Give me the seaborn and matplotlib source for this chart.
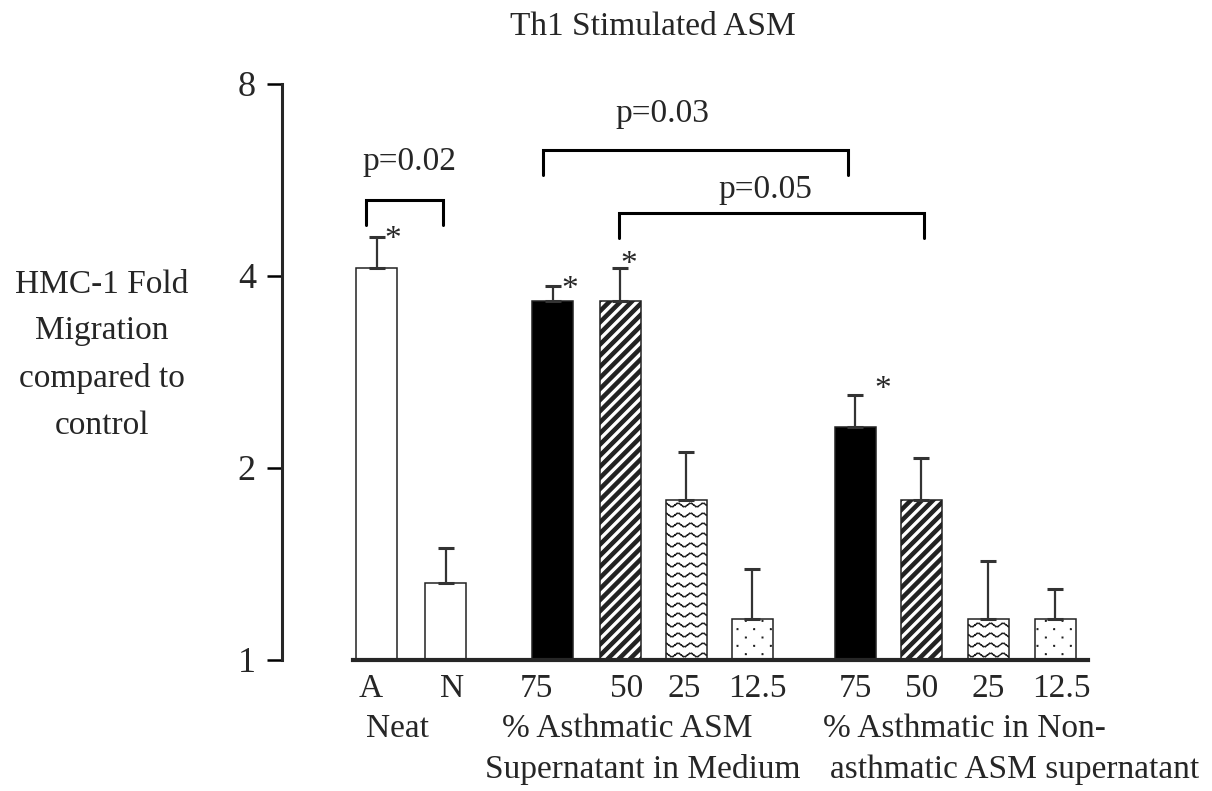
import warnings
import numpy as np
import pandas as pd
import seaborn as sns
import matplotlib
matplotlib.use("Agg")
import matplotlib.pyplot as plt
import matplotlib.hatch as mhatch
from matplotlib.path import Path

warnings.filterwarnings("ignore")

# Data (fold migration)
bar_labels = ["A", "N", "75", "50", "25", "12.5", "75", "50", "25", "12.5"]
fold = [4.12, 1.32, 3.65, 3.65, 1.78, 1.16, 2.32, 1.78, 1.16, 1.16]
sem = [0.49, 0.18, 0.21, 0.47, 0.34, 0.23, 0.28, 0.29, 0.27, 0.13]
starred = [True, False, True, True, False, False, True, False, False, False]
pvalues = ["p=0.02", "p=0.03", "p=0.05"]
yticks = [1, 2, 4, 8]

# layout (bar slots along x, not data)
pos = [0, 1.03, 2.63, 3.64, 4.63, 5.62, 7.16, 8.15, 9.15, 10.15]
faces = ["white", "white", "black", "white", "white", "white",
         "black", "white", "white", "white"]
hatches = [None, None, None, "#", "~", ":", None, "#", "~", ":"]


# custom hatch patterns: thick stripes, waves, sparse dots
class StripeHatch(mhatch.HatchPatternBase):
    n = 9

    def __init__(self, hatch, density):
        self.num_vertices = 5 * (2 * self.n + 3) if "#" in hatch else 0

    def set_vertices_and_codes(self, vertices, codes):
        hw = 0.2 / self.n
        i = 0
        for k in range(-self.n - 1, self.n + 2):
            c = k / self.n
            vertices[i:i + 5] = [(c - hw - 0.1, -0.1), (c + hw - 0.1, -0.1),
                                 (c + hw + 1.1, 1.1), (c - hw + 1.1, 1.1),
                                 (c - hw - 0.1, -0.1)]
            codes[i:i + 5] = [Path.MOVETO, Path.LINETO, Path.LINETO,
                              Path.LINETO, Path.CLOSEPOLY]
            i += 5


class WaveHatch(mhatch.HatchPatternBase):
    rows, waves, seg = 10, 8, 6

    def __init__(self, hatch, density):
        self.num_vertices = self.rows * self.waves * self.seg * 2 if "~" in hatch else 0

    def set_vertices_and_codes(self, vertices, codes):
        t = np.linspace(0, 1, self.waves * self.seg + 1)
        m = len(t) - 1
        for r in range(self.rows):
            y = (r + 0.5) / self.rows + 0.018 * np.sin(2 * np.pi * self.waves * t)
            sl = slice(r * 2 * m, (r + 1) * 2 * m)
            v = vertices[sl]
            v[0::2, 0] = t[:-1]
            v[0::2, 1] = y[:-1]
            v[1::2, 0] = t[1:]
            v[1::2, 1] = y[1:]
            c = codes[sl]
            c[0::2] = Path.MOVETO
            c[1::2] = Path.LINETO


class DotHatch(mhatch.HatchPatternBase):
    rows, cols = 12, 6

    def __init__(self, hatch, density):
        self.num_vertices = self.rows * self.cols * 5 if ":" in hatch else 0

    def set_vertices_and_codes(self, vertices, codes):
        s = 0.003
        i = 0
        for r in range(self.rows):
            y = (r + 0.5) / self.rows
            off = 0.25 if r % 2 == 0 else 0.75
            for c in range(self.cols):
                x = (c + off) / self.cols
                vertices[i:i + 5] = [(x - s, y - s), (x + s, y - s), (x + s, y + s),
                                     (x - s, y + s), (x - s, y - s)]
                codes[i:i + 5] = [Path.MOVETO, Path.LINETO, Path.LINETO,
                                  Path.LINETO, Path.CLOSEPOLY]
                i += 5


mhatch._hatch_types += [StripeHatch, WaveHatch, DotHatch]

sns.set_style("ticks")
plt.rcParams["font.family"] = ["Liberation Serif", "DejaVu Serif"]
plt.rcParams["hatch.linewidth"] = 1.0

df = pd.DataFrame({"pos": pos, "fold": fold})

fig = plt.figure(figsize=(12.12, 7.91), dpi=100)
ax = fig.add_axes([282 / 1212, 131 / 791, 806 / 1212, 576 / 791])

sns.barplot(data=df, x="pos", y="fold", native_scale=True, errorbar=None,
            width=0.62, color="white", saturation=1, edgecolor="#222",
            linewidth=1.1, ax=ax)
for patch, fc, h in zip(ax.patches, faces, hatches):
    patch.set_facecolor(fc)
    patch.set_edgecolor("#222")
    if h:
        patch.set_hatch(h)

ax.errorbar(pos, fold, yerr=[np.zeros(len(sem)), sem], fmt="none",
            ecolor="#333", elinewidth=1.6, capsize=6, capthick=2.2)

ax.set_yscale("log", base=2)
ax.set_ylim(1, 8)
ax.set_xlim(-1.422, 10.644)
ax.yaxis.set_major_locator(matplotlib.ticker.FixedLocator(yticks))
ax.yaxis.set_minor_locator(matplotlib.ticker.NullLocator())
ax.set_yticklabels([str(v) for v in yticks])

label_shift = [-0.1, 0.1, -0.25, 0.09, -0.03, 0.07, 0, 0, 0, 0.09]
ax.set_xticks([p + s for p, s in zip(pos, label_shift)])
ax.set_xticklabels(bar_labels)
ax.tick_params(axis="x", length=0, pad=10, labelsize=24)
ax.tick_params(axis="y", length=10.8, width=1.8, pad=8, labelsize=26, color="black")
ax.set_xlabel("")
ax.set_ylabel("")

sns.despine(ax=ax)
ax.spines["left"].set_bounds(1, 8)
ax.spines["left"].set_linewidth(2.2)
ax.spines["bottom"].set_bounds(-0.36, 10.64)
ax.spines["bottom"].set_linewidth(3)

# asterisks next to the significant bars
star_off = {0: (11.5, -8), 2: (12, -8.5), 3: (6, -3.5), 6: (19.5, -2)}
for i, s in enumerate(starred):
    if s:
        ax.annotate("*", xy=(pos[i], fold[i] + sem[i]), xytext=star_off[i],
                    textcoords="offset points", ha="center", va="baseline",
                    fontsize=24)

# significance brackets
brackets = [(-0.165, 0.99, 5.26, 4.81), (2.48, 7.05, 6.30, 5.76),
            (3.62, 8.19, 5.02, 4.59)]
ptext_xy = [(0.49, 5.87), (4.27, 6.97), (5.81, 5.30)]
for (x0, x1, ytop, yleg), txt, (tx, ty) in zip(brackets, pvalues, ptext_xy):
    ax.plot([x0, x0, x1, x1], [yleg, ytop, ytop, yleg], color="black",
            lw=2.2, solid_joinstyle="miter", clip_on=False)
    ax.text(tx, ty, txt, ha="center", va="baseline", fontsize=24)

# group captions under the tick labels
trans = ax.get_xaxis_transform()
groups = [("Neat", 0.31, -0.1337), ("% Asthmatic ASM", 3.74, -0.1337),
          ("Supernatant in Medium", 3.98, -0.2049),
          ("% Asthmatic in Non-", 8.80, -0.1337),
          ("asthmatic ASM supernatant", 9.55, -0.2049)]
for txt, gx, gy in groups:
    ax.text(gx, gy, txt, transform=trans, ha="center", va="baseline",
            fontsize=24, clip_on=False)

fig.text(102 / 1212, 1 - 355 / 791, "HMC-1 Fold\nMigration\ncompared to\ncontrol",
         ha="center", va="center", multialignment="center", linespacing=1.69,
         fontsize=24)
fig.text(653 / 1212, 1 - 35 / 791, "Th1 Stimulated ASM", ha="center",
         va="baseline", fontsize=24)

fig.savefig("out.png", dpi=100, facecolor="white")
